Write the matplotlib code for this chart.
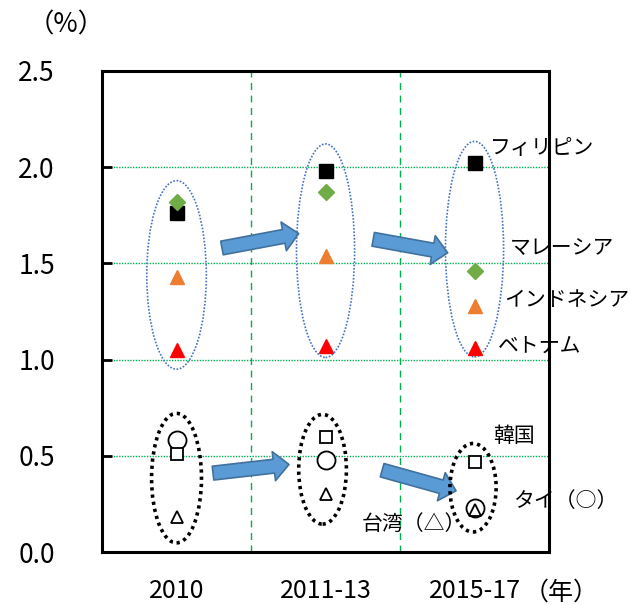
import matplotlib.pyplot as plt
from matplotlib.patches import Ellipse, FancyArrowPatch

plt.rcParams['font.family'] = ['Noto Sans CJK JP', 'DejaVu Sans']

periods = ['2010', '2011-13', '2015-17']

# growth rates (%) by country
philippines = [1.76, 1.98, 2.02]
malaysia = [1.82, 1.87, 1.46]
indonesia = [1.43, 1.54, 1.28]
vietnam = [1.05, 1.07, 1.06]
korea = [0.51, 0.60, 0.47]
thailand = [0.58, 0.48, 0.23]
taiwan = [0.18, 0.30, 0.22]

fig = plt.figure(figsize=(6.31, 6.05), dpi=100)
ax = fig.add_axes([0.1617, 0.0876, 0.7084, 0.7951])

x = range(len(periods))

ax.plot(x, philippines, 's', color='black', ms=9.5, zorder=5)
ax.plot(x, malaysia, 'D', color='#70AD47', ms=8, zorder=5)
ax.plot(x, indonesia, '^', color='#ED7D31', ms=10, zorder=5)
ax.plot(x, vietnam, '^', color='#FF0000', ms=10, zorder=5)
ax.plot(x, thailand, 'o', mfc='white', mec='black', mew=1.3, ms=13, zorder=5)
ax.plot(x, korea, 's', mfc='white', mec='black', mew=1.3, ms=9, zorder=6)
ax.plot(x, taiwan, '^', mfc='none', mec='black', mew=1.3, ms=9, zorder=6)

# group outlines
upper = [(0.0, 1.44, 0.40, 0.98), (1.0, 1.566, 0.39, 1.11), (2.0, 1.574, 0.39, 1.12)]
lower = [(0.0, 0.384, 0.335, 0.673), (0.98, 0.43, 0.32, 0.57), (1.99, 0.334, 0.31, 0.46)]
for cx, cy, w, h in upper:
    ax.add_patch(Ellipse((cx, cy), w, h, fill=False, ec='#4472C4',
                         lw=1.2, ls=(0, (1, 1)), zorder=4))
for cx, cy, w, h in lower:
    ax.add_patch(Ellipse((cx, cy), w, h, fill=False, ec='black',
                         lw=2.6, ls=(0, (0.9, 1.1)), zorder=4))

# block arrows between periods
arrows = [((0.305, 1.58), (0.82, 1.655)),
          ((1.32, 1.625), (1.82, 1.555)),
          ((0.245, 0.41), (0.755, 0.455)),
          ((1.38, 0.425), (1.876, 0.318))]
for start, end in arrows:
    ax.add_patch(FancyArrowPatch(start, end,
                                 arrowstyle='simple,head_length=11,head_width=21,tail_width=10',
                                 mutation_scale=1, shrinkA=0, shrinkB=0,
                                 fc='#5B9BD5', ec='#41719C', lw=1.2, zorder=3))

labels = [('フィリピン', 2.104, 2.10), ('マレーシア', 2.238, 1.58),
          ('インドネシア', 2.198, 1.31), ('ベトナム', 2.158, 1.07),
          ('韓国', 2.124, 0.605), ('タイ（○）', 2.258, 0.266),
          ('台湾（△）', 1.245, 0.146)]
for text, tx, ty in labels:
    ax.text(tx, ty, text, fontsize=15, va='center', ha='left', zorder=7, clip_on=False)

ax.set_xlim(-0.5, 2.5)
ax.set_ylim(0, 2.5)
ax.set_xticks(list(x))
ax.set_xticklabels(periods)
ax.set_yticks([0, 0.5, 1.0, 1.5, 2.0, 2.5])
ax.set_yticklabels(['0.0', '0.5', '1.0', '1.5', '2.0', '2.5'])
ax.tick_params(axis='x', length=0, pad=19, labelsize=18)
ax.tick_params(axis='y', direction='in', length=7, width=2, pad=34, labelsize=19)

for y in [0.5, 1.0, 1.5, 2.0]:
    ax.axhline(y, color='#00B050', lw=1, ls=(0, (1, 1)), zorder=1)
for xv in [0.5, 1.5]:
    ax.axvline(xv, color='#00B050', lw=1, ls=(0, (5, 4)), zorder=1)

for s in ax.spines.values():
    s.set_linewidth(2.2)

fig.text(0.105, 0.958, '（%）', fontsize=19, ha='center', va='center')
fig.text(0.89, 0.02, '（年）', fontsize=18, ha='center', va='center')

fig.savefig('out.png', dpi=100)
